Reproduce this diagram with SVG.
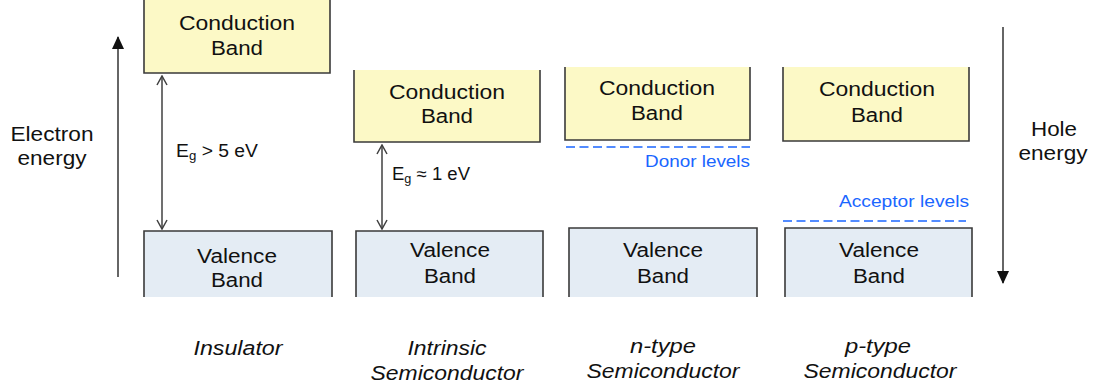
<svg xmlns="http://www.w3.org/2000/svg" width="1104" height="390" viewBox="0 0 1104 390">
<style>
.bg{fill:#ffffff}
.cb{fill:#fcf9c6}
.vb{fill:#e4ecf4}
.edge{fill:none;stroke:#3a3a3a;stroke-width:1.6}
.t{font-family:"Liberation Sans",Arial,sans-serif;font-size:20px;fill:#111;text-anchor:middle}
.s{font-family:"Liberation Sans",Arial,sans-serif;font-size:17.5px;fill:#111}
.lv{font-family:"Liberation Sans",Arial,sans-serif;font-size:17px;fill:#1a66ff;text-anchor:end}
.it{font-family:"Liberation Sans",Arial,sans-serif;font-size:20px;font-style:italic;fill:#111;text-anchor:middle}
.dash{stroke:#1a66ff;stroke-width:1.5;stroke-dasharray:9 4.5;fill:none}
.gap{stroke:#404040;stroke-width:1.5;fill:none;marker-start:url(#chev);marker-end:url(#chev)}
.axis{stroke:#333;stroke-width:1.5;fill:none;marker-end:url(#tri)}
</style>
<defs>
<marker id="chev" markerUnits="userSpaceOnUse" markerWidth="11" markerHeight="12" viewBox="0 0 11 12" refX="10" refY="6" orient="auto-start-reverse">
<path d="M1,1 L10,6 L1,11" fill="none" stroke="#404040" stroke-width="1.5"/>
</marker>
<marker id="tri" markerUnits="userSpaceOnUse" markerWidth="13" markerHeight="12" viewBox="0 0 13 12" refX="12" refY="6" orient="auto">
<path d="M0,0 L13,6 L0,12 Z" fill="#111"/>
</marker>
</defs>
<rect class="bg" x="0" y="0" width="1104" height="390"/>

<g id="axes">
<line class="axis" x1="118" y1="277" x2="118" y2="37"/>
<text class="t" x="52" y="141" textLength="83" lengthAdjust="spacingAndGlyphs">Electron</text>
<text class="t" x="52" y="165" textLength="69" lengthAdjust="spacingAndGlyphs">energy</text>
<line class="axis" x1="1003" y1="27" x2="1003" y2="283"/>
<text class="t" x="1054" y="136" textLength="46" lengthAdjust="spacingAndGlyphs">Hole</text>
<text class="t" x="1053" y="160" textLength="69" lengthAdjust="spacingAndGlyphs">energy</text>
</g>

<g id="insulator-cb">
<rect class="cb" x="144" y="0" width="186" height="73"/>
<path class="edge" d="M144,0 V73 H330 V0"/>
<text class="t" x="237" y="30" textLength="116" lengthAdjust="spacingAndGlyphs">Conduction</text>
<text class="t" x="237" y="55" textLength="52" lengthAdjust="spacingAndGlyphs">Band</text>
</g>
<g id="insulator-vb">
<rect class="vb" x="144" y="231" width="188" height="66"/>
<path class="edge" d="M144,297 V231 H332 V297"/>
<text class="t" x="237" y="263" textLength="80" lengthAdjust="spacingAndGlyphs">Valence</text>
<text class="t" x="237" y="287" textLength="52" lengthAdjust="spacingAndGlyphs">Band</text>
</g>

<g id="intrinsic-cb">
<rect class="cb" x="354" y="70" width="186" height="72"/>
<path class="edge" d="M354,70 V142 H540 V70"/>
<text class="t" x="447" y="99" textLength="116" lengthAdjust="spacingAndGlyphs">Conduction</text>
<text class="t" x="447" y="123" textLength="52" lengthAdjust="spacingAndGlyphs">Band</text>
</g>
<g id="intrinsic-vb">
<rect class="vb" x="356" y="231" width="187" height="66"/>
<path class="edge" d="M356,297 V231 H543 V297"/>
<text class="t" x="450" y="257" textLength="80" lengthAdjust="spacingAndGlyphs">Valence</text>
<text class="t" x="450" y="283" textLength="52" lengthAdjust="spacingAndGlyphs">Band</text>
</g>

<g id="ntype-cb">
<rect class="cb" x="565" y="67" width="185" height="73"/>
<path class="edge" d="M565,67 V140 H750 V67"/>
<text class="t" x="657" y="95" textLength="116" lengthAdjust="spacingAndGlyphs">Conduction</text>
<text class="t" x="657" y="120" textLength="52" lengthAdjust="spacingAndGlyphs">Band</text>
</g>
<g id="ntype-donor">
<line class="dash" x1="566" y1="147" x2="750" y2="147"/>
<text class="lv" x="750" y="167" textLength="105" lengthAdjust="spacingAndGlyphs">Donor levels</text>
</g>
<g id="ntype-vb">
<rect class="vb" x="569" y="228" width="188" height="69"/>
<path class="edge" d="M569,297 V228 H757 V297"/>
<text class="t" x="663" y="257" textLength="80" lengthAdjust="spacingAndGlyphs">Valence</text>
<text class="t" x="663" y="283" textLength="52" lengthAdjust="spacingAndGlyphs">Band</text>
</g>

<g id="ptype-cb">
<rect class="cb" x="783" y="67" width="186" height="74"/>
<path class="edge" d="M783,67 V141 H969 V67"/>
<text class="t" x="877" y="96" textLength="116" lengthAdjust="spacingAndGlyphs">Conduction</text>
<text class="t" x="877" y="122" textLength="52" lengthAdjust="spacingAndGlyphs">Band</text>
</g>
<g id="ptype-acceptor">
<text class="lv" x="969" y="207" textLength="130" lengthAdjust="spacingAndGlyphs">Acceptor levels</text>
<line class="dash" x1="783" y1="221" x2="966" y2="221"/>
</g>
<g id="ptype-vb">
<rect class="vb" x="785" y="228" width="187" height="69"/>
<path class="edge" d="M785,297 V228 H972 V297"/>
<text class="t" x="879" y="257" textLength="80" lengthAdjust="spacingAndGlyphs">Valence</text>
<text class="t" x="879" y="283" textLength="52" lengthAdjust="spacingAndGlyphs">Band</text>
</g>

<g id="connectors">
<line class="gap" x1="162" y1="76" x2="162" y2="229"/>
<line class="gap" x1="382" y1="145" x2="382" y2="229"/>
</g>
<g id="gap-labels">
<text class="s" x="176" y="157" textLength="82" lengthAdjust="spacingAndGlyphs">E<tspan font-size="12" dy="3">g</tspan><tspan dy="-3"> &gt; 5 eV</tspan></text>
<text class="s" x="392" y="180" textLength="78" lengthAdjust="spacingAndGlyphs">E<tspan font-size="12" dy="3">g</tspan><tspan dy="-3"> ≈ 1 eV</tspan></text>
</g>

<g id="labels">
<text class="it" x="238" y="355" textLength="89" lengthAdjust="spacingAndGlyphs">Insulator</text>
<text class="it" x="447" y="355" textLength="79" lengthAdjust="spacingAndGlyphs">Intrinsic</text>
<text class="it" x="447" y="380" textLength="153" lengthAdjust="spacingAndGlyphs">Semiconductor</text>
<text class="it" x="663" y="353" textLength="66" lengthAdjust="spacingAndGlyphs">n-type</text>
<text class="it" x="663" y="378" textLength="153" lengthAdjust="spacingAndGlyphs">Semiconductor</text>
<text class="it" x="878" y="353" textLength="66" lengthAdjust="spacingAndGlyphs">p-type</text>
<text class="it" x="880" y="378" textLength="153" lengthAdjust="spacingAndGlyphs">Semiconductor</text>
</g>
</svg>
